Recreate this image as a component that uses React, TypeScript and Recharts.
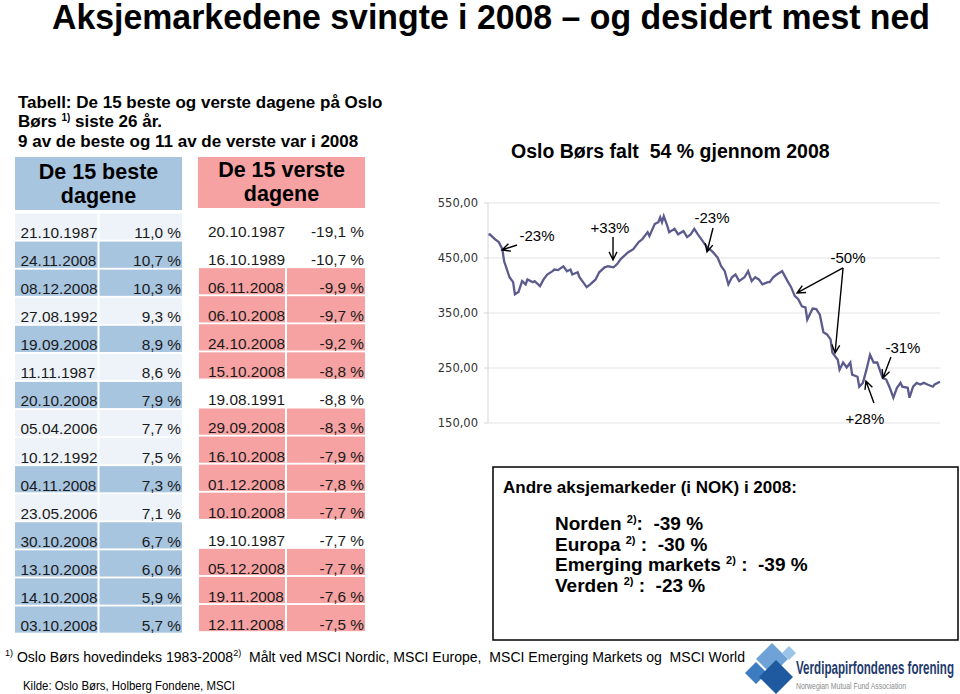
import React from 'react';
import { LineChart, Line, XAxis, YAxis, CartesianGrid, ReferenceDot } from 'recharts';

// ---------- data ----------
const tradingDay = [0,1,4,6,8,9,12,14,15,17,19,21,22,25,26,29,31,33,36,37,39,42,44,46,47,50,51,53,55,57,60,62,65,67,70,72,74,75,78,81,84,86,89,90,93,95,96,97,98,100,101,104,106,109,111,113,115,117,119,122,125,128,130,132,134,136,138,140,143,145,147,149,151,153,156,157,159,161,163,164,167,169,171,173,175,177,178,181,183,185,187,189,191,192,195,196,198,200,202,203,206,207,209,211,213,215,217,219,220,222,224,226,228,230,231,234,235,237,239,241,243,245,248,249,252];
const osloIndex = [492,493,484,479,466,444,415,406,384,388,408,402,411,406,408,399,411,420,426,429,428,435,426,429,420,424,415,406,397,402,411,424,433,435,433,439,448,451,460,466,479,484,497,490,512,515,524,515,526,508,497,503,493,499,488,493,503,493,484,470,462,451,435,426,402,415,420,408,415,426,408,415,411,402,406,406,415,420,424,426,408,397,381,375,362,360,338,358,357,347,315,311,302,278,265,247,260,251,260,238,234,216,223,247,274,260,260,241,232,229,214,196,214,223,216,214,196,216,223,220,223,220,216,220,225];
const yTicks = [150, 250, 350, 450, 550];

const bestDates = ['21.10.1987','24.11.2008','08.12.2008','27.08.1992','19.09.2008','11.11.1987','20.10.2008','05.04.2006','10.12.1992','04.11.2008','23.05.2006','30.10.2008','13.10.2008','14.10.2008','03.10.2008'];
const bestValues = ['11,0 %','10,7 %','10,3 %','9,3 %','8,9 %','8,6 %','7,9 %','7,7 %','7,5 %','7,3 %','7,1 %','6,7 %','6,0 %','5,9 %','5,7 %'];
const worstDates = ['20.10.1987','16.10.1989','06.11.2008','06.10.2008','24.10.2008','15.10.2008','19.08.1991','29.09.2008','16.10.2008','01.12.2008','10.10.2008','19.10.1987','05.12.2008','19.11.2008','12.11.2008'];
const worstValues = ['-19,1 %','-10,7 %','-9,9 %','-9,7 %','-9,2 %','-8,8 %','-8,8 %','-8,3 %','-7,9 %','-7,8 %','-7,7 %','-7,7 %','-7,7 %','-7,6 %','-7,5 %'];

const otherMarkets = ['Norden', 'Europa', 'Emerging markets', 'Verden'];
const otherReturns = ['-39 %', '-30 %', '-39 %', '-23 %'];

// annotation arrows: tip at (day, value)
const arrowDays = [7.8, 69.7, 122.1, 172.3, 193.5, 220.2, 210.7];
const arrowValues = [464.5, 446.4, 460.9, 386.4, 277.3, 231.8, 226.4];
const annotationTexts = ['-23%', '+33%', '-23%', '-50%', '', '-31%', '+28%'];

// styles (pixel offsets relative to arrow tip)
const arrowTail = [[15,-5],[0,-23],[6,-24],[46,-25],[8,-85],[8,-21],[8,22]];
const labelOffset = [[35,-9],[-3,-27],[5,-29],[51,-30],[0,0],[20,-25],[-1,43]];

const chartData = tradingDay.map((d, i) => ({ day: d, value: osloIndex[i] }));

const FONT = "'Liberation Sans', Arial, Helvetica, sans-serif";
const BLUE = '#a8c5e0';
const LIGHT = '#eef3f9';
const PINK = '#f6a2a2';

function arrowPath(x1: number, y1: number, x2: number, y2: number) {
  const ang = Math.atan2(y2 - y1, x2 - x1);
  const L = 9, a = 0.45;
  const h1x = x2 - L * Math.cos(ang - a), h1y = y2 - L * Math.sin(ang - a);
  const h2x = x2 - L * Math.cos(ang + a), h2y = y2 - L * Math.sin(ang + a);
  return `M${x1},${y1}L${x2},${y2}M${h1x},${h1y}L${x2},${y2}L${h2x},${h2y}`;
}

function makeAnnotation(i: number) {
  return (p: any) => {
    const cx = p.cx, cy = p.cy;
    const [tx, ty] = arrowTail[i];
    const [lx, ly] = labelOffset[i];
    return (
      <g>
        <path d={arrowPath(cx + tx, cy + ty, cx, cy)} stroke="#000" strokeWidth={1.4} fill="none" />
        {annotationTexts[i] ? (
          <text x={cx + lx} y={cy + ly} textAnchor="middle" fontSize={15} fontFamily={FONT} fill="#000">{annotationTexts[i]}</text>
        ) : null}
      </g>
    );
  };
}

const fmt = (v: number) => v.toFixed(2).replace('.', ',');

export default function App() {
  const pitch = 28.07;
  return (
    <div style={{ position: 'absolute', left: 0, top: 0, width: 960, height: 694, background: '#fff', overflow: 'hidden' }}>
      <svg width={960} height={694} style={{ position: 'absolute', left: 0, top: 0 }} fontFamily={FONT}>
        <text x={52} y={29} fontSize={35} fontWeight="bold" textLength={878} lengthAdjust="spacingAndGlyphs">Aksjemarkedene svingte i 2008 – og desidert mest ned</text>

        <text x={18} y={108} fontSize={17} fontWeight="bold">Tabell: De 15 beste og verste dagene på Oslo</text>
        <text x={18} y={127} fontSize={17} fontWeight="bold" style={{ whiteSpace: 'pre' }}>
          Børs <tspan fontSize={10} dy={-6}>1)</tspan><tspan dy={6}> siste 26 år.</tspan>
        </text>
        <text x={18} y={147} fontSize={17} fontWeight="bold">9 av de beste og 11 av de verste var i 2008</text>

        {/* headers */}
        <rect x={15} y={157} width={167} height={53} fill={BLUE} />
        <text x={98.5} y={179} fontSize={21.5} fontWeight="bold" textAnchor="middle">De 15 beste</text>
        <text x={98.5} y={203} fontSize={21.5} fontWeight="bold" textAnchor="middle">dagene</text>
        <rect x={198} y={157} width={167} height={51} fill={PINK} />
        <text x={281.5} y={177} fontSize={21.5} fontWeight="bold" textAnchor="middle">De 15 verste</text>
        <text x={281.5} y={201} fontSize={21.5} fontWeight="bold" textAnchor="middle">dagene</text>

        {/* best table */}
        {bestDates.map((d, i) => {
          const top = 213.5 + pitch * i;
          const fill = d.endsWith('2008') ? BLUE : LIGHT;
          return (
            <g key={'b' + i}>
              <rect x={15} y={top} width={82.5} height={26.2} fill={fill} />
              <rect x={99.5} y={top} width={82.5} height={26.2} fill={fill} />
              <text x={20.5} y={238 + pitch * i} fontSize={15.4} fill="#1a1a1a">{d}</text>
              <text x={181} y={238 + pitch * i} fontSize={15.4} fill="#1a1a1a" textAnchor="end">{bestValues[i]}</text>
            </g>
          );
        })}

        {/* worst table */}
        {worstDates.map((d, i) => {
          const top = 212 + pitch * i;
          const is08 = d.endsWith('2008');
          return (
            <g key={'w' + i}>
              {is08 ? <rect x={199} y={top} width={86} height={26.2} fill={PINK} /> : null}
              {is08 ? <rect x={287} y={top} width={78} height={26.2} fill={PINK} /> : null}
              <text x={208} y={237 + pitch * i} fontSize={15.4} fill="#1a1a1a">{d}</text>
              <text x={364} y={237 + pitch * i} fontSize={15.4} fill="#1a1a1a" textAnchor="end">{worstValues[i]}</text>
            </g>
          );
        })}

        {/* chart title */}
        <text x={511} y={158} fontSize={19.5} fontWeight="bold" style={{ whiteSpace: 'pre' }}>Oslo Børs falt  54 % gjennom 2008</text>

        {/* other markets box */}
        <rect x={493} y={467} width={465} height={173} fill="none" stroke="#000" strokeWidth={1.5} />
        <text x={503} y={493} fontSize={17} fontWeight="bold">Andre aksjemarkeder (i NOK) i 2008:</text>
        {otherMarkets.map((m, i) => (
          <text key={m} x={555} y={530 + i * 20.7} fontSize={19} fontWeight="bold" style={{ whiteSpace: 'pre' }}>
            {m} <tspan fontSize={11} dy={-7}>2)</tspan><tspan dy={7}>{i === 0 ? ':  ' : ' :  '}{otherReturns[i]}</tspan>
          </text>
        ))}

        {/* footnotes */}
        <text x={5} y={662} fontSize={14} textLength={740} lengthAdjust="spacingAndGlyphs" style={{ whiteSpace: 'pre' }}>
          <tspan fontSize={9} dy={-6}>1)</tspan><tspan dy={6}> Oslo Børs hovedindeks 1983-2008</tspan><tspan fontSize={9} dy={-6}>2)</tspan><tspan dy={6}>  Målt ved MSCI Nordic, MSCI Europe,  MSCI Emerging Markets og  MSCI World</tspan>
        </text>
        <text x={23} y={690} fontSize={12} textLength={212} lengthAdjust="spacingAndGlyphs">Kilde: Oslo Børs, Holberg Fondene, MSCI</text>

        {/* logo */}
        <g>
          <polygon points="772,643 788,659 772,675 756,659" fill="#6fa3d8" />
          <polygon points="789,646 796,653 789,660 782,653" fill="#9cc3e8" />
          <polygon points="756,662 767,673 756,684 745,673" fill="#3d7cc0" />
          <polygon points="776,660 793,677 776,694 759,677" fill="#1f5aa0" />
        </g>
        <text x={796} y={674} fontSize={18} fontWeight="bold" fill="#1f3b6e" textLength={158} lengthAdjust="spacingAndGlyphs">Verdipapirfondenes forening</text>
        <text x={796} y={689} fontSize={9.5} fill="#8a8a8a" textLength={110} lengthAdjust="spacingAndGlyphs">Norwegian Mutual Fund Association</text>
      </svg>

      <div style={{ position: 'absolute', left: 420, top: 190 }}>
        <LineChart width={540} height={250} data={chartData} margin={{ top: 13, right: 20, bottom: 17, left: 0 }}>
          <CartesianGrid horizontal vertical={false} stroke="#e3e3e3" />
          <XAxis type="number" dataKey="day" domain={[0, 252]} hide />
          <YAxis
            type="number"
            domain={[150, 550]}
            ticks={yTicks}
            width={68}
            tickFormatter={fmt}
            tickSize={4}
            tickMargin={6}
            axisLine={{ stroke: '#d6d6d6' }}
            tickLine={{ stroke: '#d6d6d6' }}
            tick={{ fontSize: 11.5, fill: '#333', fontFamily: "'DejaVu Sans', Verdana, sans-serif" }}
          />
          <Line type="linear" dataKey="value" stroke="#5b5b8d" strokeWidth={2.3} dot={false} isAnimationActive={false} />
          {arrowDays.map((d, i) => (
            <ReferenceDot key={i} x={d} y={arrowValues[i]} r={0} ifOverflow="visible" shape={makeAnnotation(i)} />
          ))}
        </LineChart>
      </div>
    </div>
  );
}
